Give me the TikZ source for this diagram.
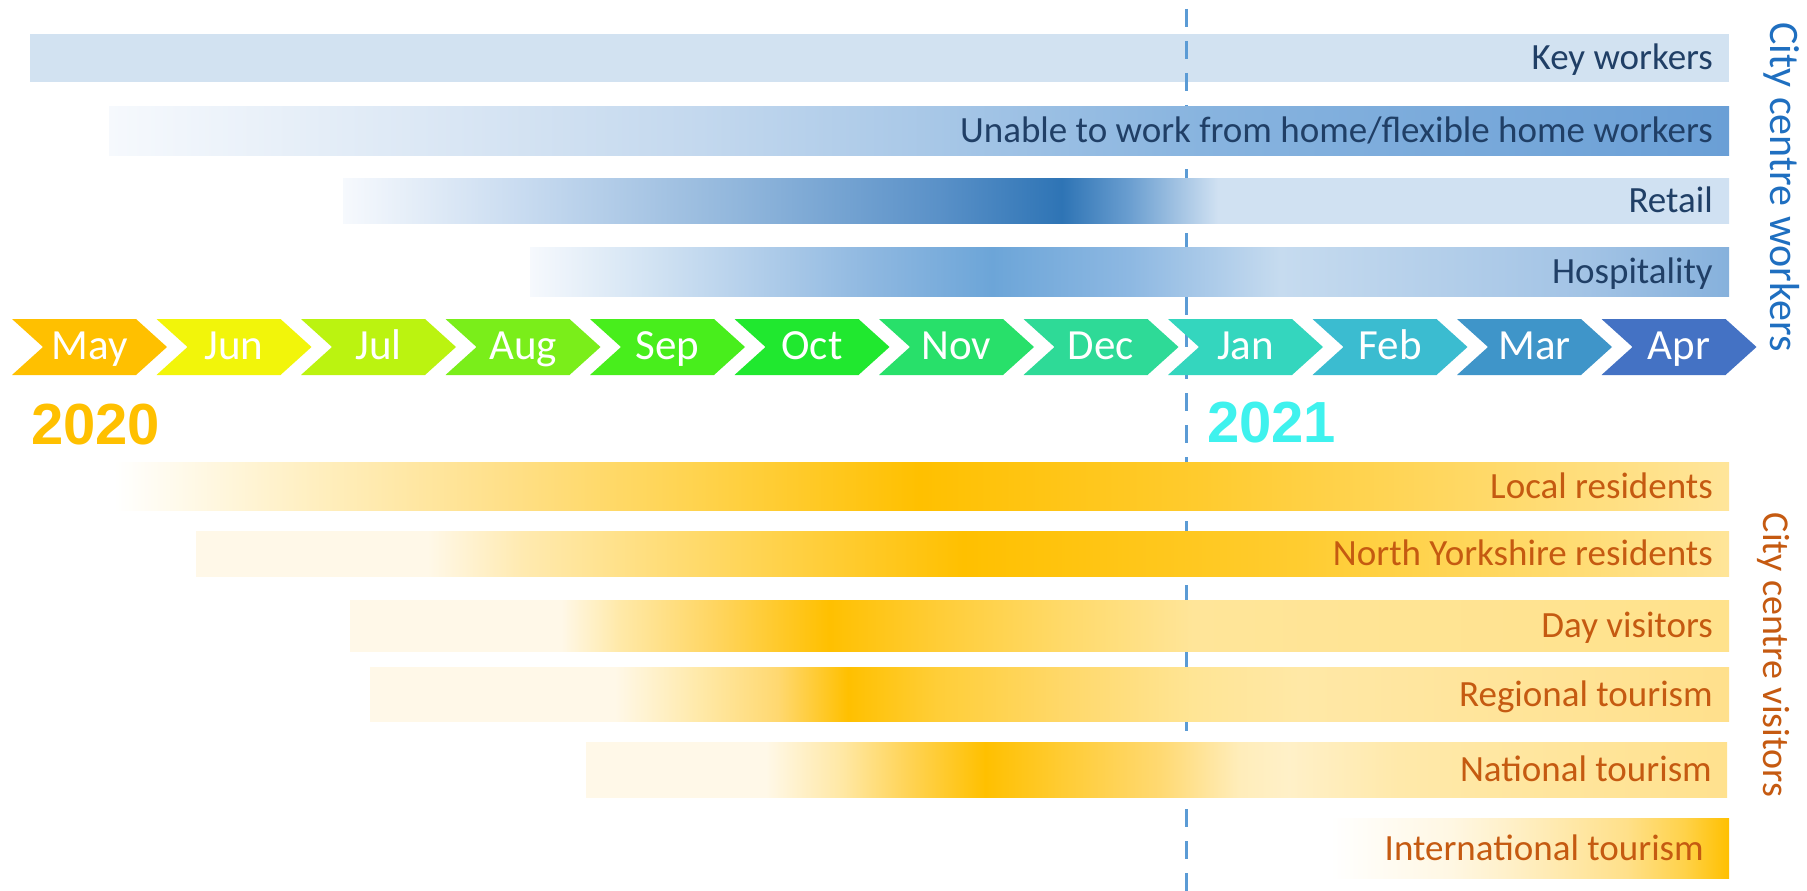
\documentclass[tikz,border=0pt]{standalone}
\usepackage{fontspec}
\setmainfont{Carlito}
\newfontfamily\yearfont{Liberation Sans}
\definecolor{navytext}{HTML}{203F66}
\definecolor{workerstitle}{HTML}{1F6FC0}
\definecolor{orangetext}{HTML}{C55A11}
\definecolor{keybar}{HTML}{D2E2F1}
\definecolor{dashcol}{HTML}{5B9BD5}
\definecolor{year20}{HTML}{FFC000}
\definecolor{year21}{HTML}{3FF2EE}
\definecolor{cMay}{HTML}{FFC000}
\definecolor{cJun}{HTML}{F2F50A}
\definecolor{cJul}{HTML}{BBF310}
\definecolor{cAug}{HTML}{7AEE1A}
\definecolor{cSep}{HTML}{48EE1C}
\definecolor{cOct}{HTML}{20E82F}
\definecolor{cNov}{HTML}{28E06A}
\definecolor{cDec}{HTML}{2EDA97}
\definecolor{cJan}{HTML}{34D6BE}
\definecolor{cFeb}{HTML}{3BBCD0}
\definecolor{cMar}{HTML}{3F95C9}
\definecolor{cApr}{HTML}{4472C4}
\newcommand\setfs[1]{\fontsize{#1}{#1}\selectfont}
% horizontal multi-stop shading: stops given as xposition/HEX
\newcommand\defshade[2]{%
  \gdef\shspec{}%
  \foreach \p/\hx [count=\k] in {#2}{%
    \edef\tmpdef{\noexpand\xglobal\noexpand\definecolor{c\hx}{HTML}{\hx}}\tmpdef
    \ifnum\k=1 \xdef\shfirst{\p}\xdef\shspec{color(0bp)=(c\hx);}\fi
    \xdef\shlastp{\p}\xdef\shlast{c\hx}%
  }%
  \foreach \p/\hx in {#2}{%
    \pgfmathsetmacro\pp{25+((\p-\shfirst)/(\shlastp-\shfirst))*50}%
    \xdef\shspec{\shspec color(\pp bp)=(c\hx);}%
  }%
  \edef\tmp{\noexpand\pgfdeclarehorizontalshading{#1}{100bp}{\shspec color(100bp)=(\shlast)}}\tmp
}
\defshade{shUnable}{109/F6F9FD, 491/D6E4F3, 700/C3D8EE, 1200/88B4DF, 1729/6A9FD6}
\defshade{shRetail}{343/F6F9FD, 523/C8DBF0, 746/8FB5DB, 938/5A91C8, 1062/2E74B5, 1129/6A9ED0, 1218/D0E1F2, 1729/D0E1F2}
\defshade{shHosp}{530/F6F9FD, 650/D2E3F3, 746/B5D0EB, 874/8DB7E0, 992/6CA5D8, 1129/8DB8E2, 1280/C6DBEF, 1588/A2C3E5, 1729/86B1DC}
\defshade{shLocal}{114/FFFFFF, 300/FFF0C4, 500/FFE08A, 700/FFD34D, 919/FFC000, 1200/FFCB2E, 1729/FFE59A}
\defshade{shNY}{196/FFF8E8, 428/FFF8E8, 523/FFEAB0, 683/FFDB70, 963/FFC000, 1300/FFCC30, 1729/FFE599}
\defshade{shDay}{350/FFF8E8, 561/FFF8E8, 620/FFE9A8, 715/FFD560, 829/FFC000, 940/FFCD38, 1065/FFDA6A, 1193/FFE599, 1729/FFE28C}
\defshade{shReg}{370/FFF8E8, 615/FFF8E8, 700/FFE9A8, 778/FFD870, 848/FFC000, 938/FFCE38, 1065/FFD86A, 1193/FFE595, 1300/FFE8A6, 1729/FFE08C}
\defshade{shNat}{586/FFF8E8, 766/FFF8E8, 842/FFE8A5, 906/FFD458, 986/FFC000, 1065/FFCC35, 1161/FFD972, 1240/FFEDBA, 1290/FFF0C8, 1400/FFE9AA, 1729/FFE18E}
\defshade{shIntl}{1330/FFFFFF, 1450/FFF7E3, 1510/FFF0C8, 1626/FFE08A, 1684/FFD24A, 1729/FFC000}
\tikzset{
  bluelab/.style={anchor=base east, inner sep=0pt, text=navytext, font=\setfs{37}},
  orangelab/.style={anchor=base east, inner sep=0pt, text=orangetext, font=\setfs{37}},
  monthlab/.style={anchor=base, inner sep=0pt, text=white, font=\setfs{43}},
  sidelab/.style={anchor=base, inner sep=0pt, rotate=-90},
  yearlab/.style={anchor=base west, inner sep=0pt, font=\yearfont\bfseries\setfs{58}},
  dashline/.style={draw=dashcol, line width=3pt, dash pattern=on 18pt off 14pt},
}
\begin{document}
\begin{tikzpicture}[x=1pt,y=-1pt]
\useasboundingbox[fill=white] (0,0) rectangle (1807,891);
% key workers bar (under the dashed divider)
\fill[keybar] (30,34) rectangle (1729,82);
% dashed divider (behind the other bars and the chevrons)
\coordinate (dtop) at (1186,9);
\coordinate (dbot) at (1186,891);
\draw[dashline] (dtop) -- (dbot);
% worker bars
\shade[shading=shUnable] (109,106) rectangle (1729,155);
\shade[shading=shRetail] (343,178) rectangle (1729,223);
\shade[shading=shHosp] (530,247) rectangle (1729,296);
\node[bluelab] (lkey) at (1713,70) {Key workers};
\node[bluelab] (lunable) at (1713,142.5) {Unable to work from home/flexible home workers};
\node[bluelab] (lretail) at (1713,212.5) {Retail};
\node[bluelab] (lhosp) at (1713,283.5) {Hospitality};
% visitor bars
\shade[shading=shLocal] (114,462) rectangle (1729,510);
\shade[shading=shNY] (196,531) rectangle (1729,576);
\shade[shading=shDay] (350,600) rectangle (1729,651);
\shade[shading=shReg] (370,667) rectangle (1729,721);
\shade[shading=shNat] (586,742) rectangle (1727,797);
\shade[shading=shIntl] (1330,818) rectangle (1729,878);
\node[orangelab] (llocal) at (1713,498) {Local residents};
\node[orangelab] (lny) at (1713,565.5) {North Yorkshire residents};
\node[orangelab] (lday) at (1713,637.5) {Day visitors};
\node[orangelab] (lreg) at (1713,706) {Regional tourism};
\node[orangelab] (lnat) at (1712,781.5) {National tourism};
\node[orangelab] (lintl) at (1704,860) {International tourism};
% month chevrons
\foreach \m/\cl [count=\i from 0] in {May/cMay,Jun/cJun,Jul/cJul,Aug/cAug,Sep/cSep,Oct/cOct,Nov/cNov,Dec/cDec,Jan/cJan,Feb/cFeb,Mar/cMar,Apr/cApr}{
  \pgfmathsetmacro\L{12+144.5*\i}
  \fill[\cl] (\L,319) -- ++(124,0) -- ++(31,28) -- ++(-31,28) -- ++(-124,0) -- ++(31,-28) -- cycle;
  \node[monthlab] (m\i) at (\L+77.5,359) {\m};
}
% years
\node[yearlab, text=year20] (y2020) at (31,444) {2020};
\node[yearlab, text=year21] (y2021) at (1207,442) {2021};
% side titles
\node[sidelab, text=workerstitle, font=\setfs{42}] (tworkers) at (1770,187) {City centre workers};
\node[sidelab, text=orangetext, font=\setfs{38}] (tvisitors) at (1763,655) {City centre visitors};
\end{tikzpicture}
\end{document}
